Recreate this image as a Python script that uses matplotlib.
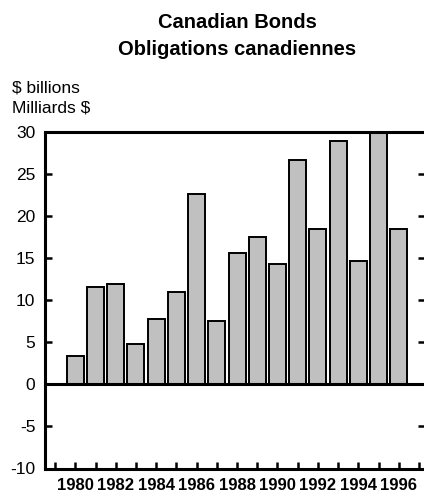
import matplotlib
matplotlib.use("Agg")
import matplotlib.pyplot as plt

years = list(range(1980, 1997))
values = [3.4, 11.5, 11.95, 4.75, 7.7, 11.0, 22.6, 7.5, 15.6, 17.5, 14.3,
          26.6, 18.5, 28.9, 14.7, 29.8, 18.45]
yticks = [-10, -5, 0, 5, 10, 15, 20, 25, 30]
year_labels = [str(y) if y % 2 == 0 else "" for y in range(1979, 1998)]

plt.rcParams['font.family'] = ['Liberation Sans', 'DejaVu Sans']

fig = plt.figure(figsize=(4.24, 4.96), dpi=100)
ax = fig.add_axes([45/424, 1-468.5/496, 380/424, (468.5-131.7)/496])

ax.bar(years, values, width=0.84, color='#c0c0c0', edgecolor='black',
       linewidth=1.4, zorder=2)
ax.axhline(0, color='black', linewidth=2.2, zorder=3)

ax.set_ylim(-10, 30)
ax.set_xlim(1978.5, 1997.3)
ax.set_yticks(yticks)
ax.set_yticklabels([str(t) for t in yticks], fontsize=12.5)
ax.set_xticks(list(range(1979, 1998)))
ax.set_xticklabels(year_labels, fontsize=12, fontweight='bold')

for s in ['left', 'top', 'bottom']:
    ax.spines[s].set_linewidth(2.2)
ax.spines['right'].set_visible(False)

ax.tick_params(axis='y', direction='in', length=5, width=1.8, pad=7,
               right=True, left=True)
ax.tick_params(axis='x', direction='in', length=5, width=1.8, pad=7)

fig.text(237/424, 1-28.5/496, "Canadian Bonds", ha='center', va='baseline',
         fontsize=14.5, fontweight='bold')
fig.text(237/424, 1-55/496, "Obligations canadiennes", ha='center',
         va='baseline', fontsize=14.5, fontweight='bold')
fig.text(12/424, 1-92.5/496, "$ billions", ha='left', va='baseline',
         fontsize=12.5)
fig.text(12/424, 1-112.5/496, "Milliards $", ha='left', va='baseline',
         fontsize=12.5)

fig.savefig("out.png", dpi=100)
